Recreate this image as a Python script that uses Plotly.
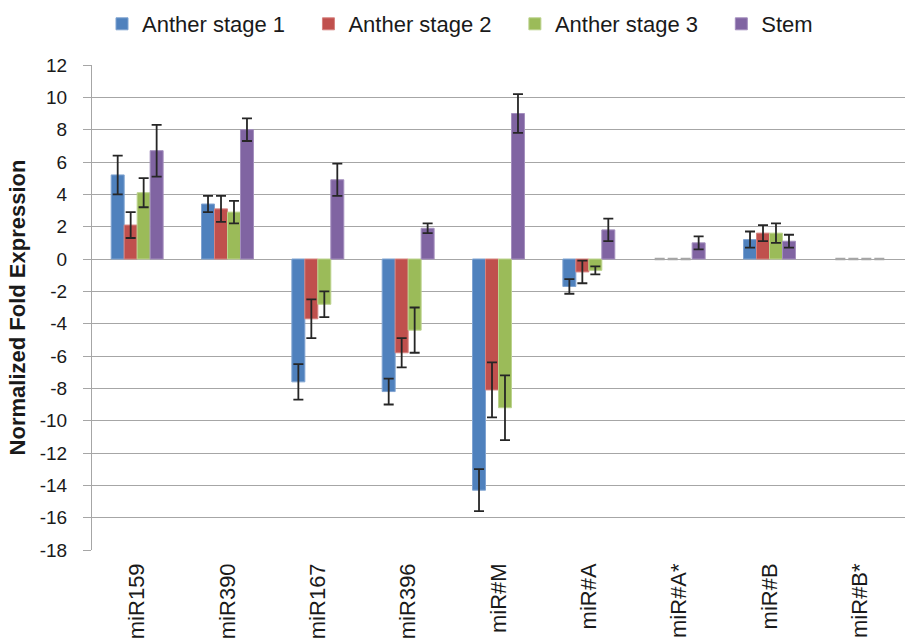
import plotly.graph_objects as go

# miRNA targets along the x axis
categories = ["miR159", "miR390", "miR167", "miR396", "miR#M",
              "miR#A", "miR#A*", "miR#B", "miR#B*"]

# normalized fold expression per tissue
anther1 = [5.2, 3.4, -7.6, -8.2, -14.3, -1.7, 0.0, 1.2, 0.0]
anther2 = [2.1, 3.1, -3.7, -5.8, -8.1, -0.8, 0.0, 1.6, 0.0]
anther3 = [4.1, 2.9, -2.8, -4.4, -9.2, -0.7, 0.0, 1.6, 0.0]
stem = [6.7, 8.0, 4.9, 1.9, 9.0, 1.8, 1.0, 1.1, 0.0]

# standard error for each bar
anther1_err = [1.2, 0.5, 1.1, 0.8, 1.3, 0.45, 0.0, 0.5, 0.0]
anther2_err = [0.8, 0.8, 1.2, 0.9, 1.7, 0.7, 0.0, 0.5, 0.0]
anther3_err = [0.9, 0.7, 0.8, 1.4, 2.0, 0.25, 0.0, 0.6, 0.0]
stem_err = [1.6, 0.7, 1.0, 0.3, 1.2, 0.7, 0.4, 0.4, 0.0]

series_names = ["Anther stage 1", "Anther stage 2", "Anther stage 3", "Stem"]
y_ticks = list(range(-18, 13, 2))

series = [
    (series_names[0], anther1, anther1_err, "#4F81BD", "#7FA3D1"),
    (series_names[1], anther2, anther2_err, "#C0504D", "#D6827F"),
    (series_names[2], anther3, anther3_err, "#9BBB59", "#BCD38E"),
    (series_names[3], stem, stem_err, "#8064A2", "#A48FBE"),
]

FONT = "Liberation Sans, Arial, Helvetica, sans-serif"
W, H = 909, 641
ML, MR, MT, MB = 92, 4, 65, 91
PAD = "\u00a0" * 3  # keeps legend entries evenly spaced

fig = go.Figure()
for i, (name, vals, errs, color, edge) in enumerate(series):
    group = str(i)
    # non-zero values: coloured bars with black error bars
    y_bar = [v if v != 0 else None for v in vals]
    label = name + (PAD if i < len(series) - 1 else "")
    fig.add_trace(go.Bar(
        name=label,
        x=categories,
        y=y_bar,
        offsetgroup=group,
        marker=dict(color=color, line=dict(color=edge, width=1)),
        error_y=dict(type="data", array=errs, visible=True,
                     color="#262626", thickness=1.8, width=5),
    ))
    # zero values: a flat grey stub on the zero line
    y_zero = [0 if v == 0 else None for v in vals]
    fig.add_trace(go.Bar(
        x=categories,
        y=y_zero,
        offsetgroup=group,
        showlegend=False,
        hoverinfo="skip",
        marker=dict(color="rgba(0,0,0,0)", line=dict(width=0)),
        error_y=dict(type="data", array=[0] * len(vals), visible=True,
                     color="#A6A6A6", thickness=2.5, width=5),
    ))

fig.update_layout(
    width=W,
    height=H,
    barmode="group",
    bargap=0.425,
    bargroupgap=0,
    plot_bgcolor="white",
    paper_bgcolor="white",
    margin=dict(l=ML, r=MR, t=MT, b=MB, autoexpand=False),
    font=dict(family=FONT, color="#1a1a1a"),
    showlegend=True,
    legend=dict(
        orientation="h",
        xref="container",
        yref="container",
        x=102 / W,
        y=1 - 3 / H,
        xanchor="left",
        yanchor="top",
        font=dict(family=FONT, size=22, color="#1a1a1a"),
        bgcolor="rgba(0,0,0,0)",
        traceorder="normal",
    ),
    xaxis=dict(
        tickangle=-90,
        tickfont=dict(family=FONT, size=22, color="#1a1a1a"),
        showgrid=False,
        showline=False,
        ticks="",
        automargin=False,
        ticklabelstandoff=8,
    ),
    yaxis=dict(
        range=[-18, 12],
        tickvals=y_ticks,
        ticktext=[str(v) for v in y_ticks],
        tickfont=dict(family=FONT, size=19, color="#1a1a1a"),
        showgrid=True,
        gridcolor="#A6A6A6",
        gridwidth=1,
        zeroline=True,
        zerolinecolor="#A6A6A6",
        zerolinewidth=1,
        showline=True,
        linecolor="#A6A6A6",
        linewidth=1,
        ticks="outside",
        ticklen=8,
        tickcolor="#A6A6A6",
        ticklabelstandoff=12,
        automargin=False,
        title=dict(text="<b>Normalized Fold Expression</b>",
                   font=dict(family=FONT, size=22, color="#1a1a1a"),
                   standoff=8),
    ),
)

fig.write_html("out.html")
